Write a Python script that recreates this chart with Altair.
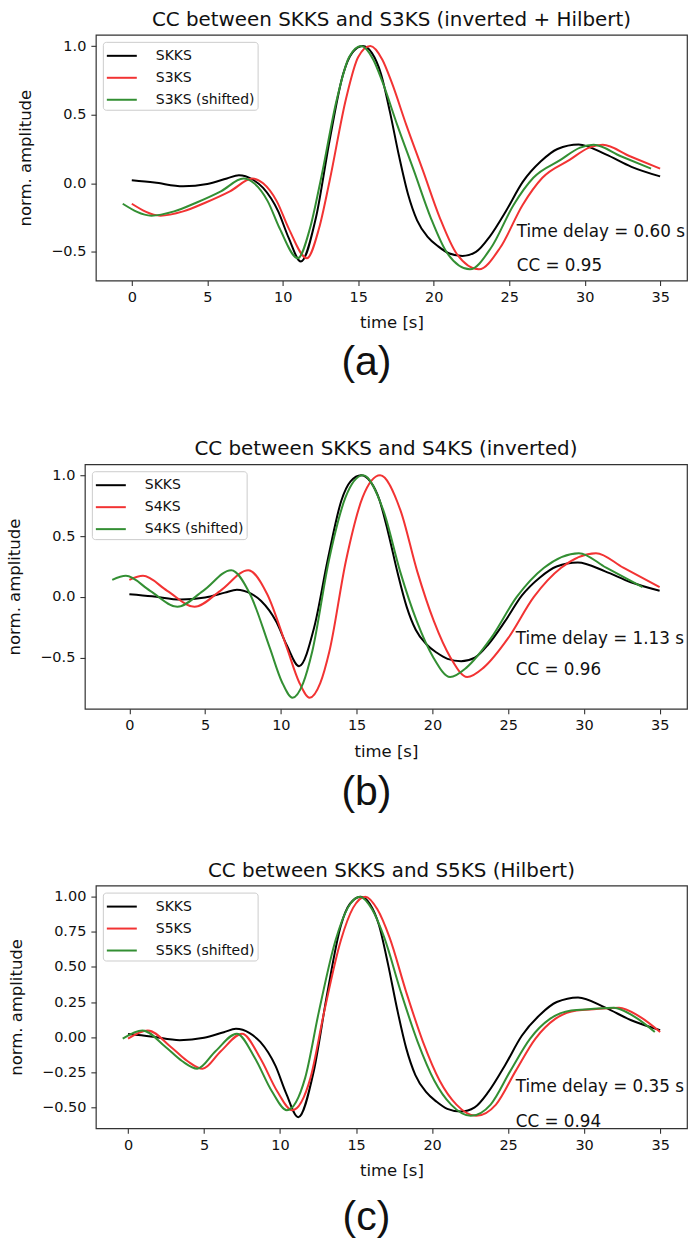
import altair as alt
import pandas as pd

# Reference phase SKKS: time [s] and normalised amplitude
skks_t = [0.0, 1.5, 3.4, 5.0, 6.3, 7.1, 8.0, 8.7, 9.7, 10.4, 11.2, 12.2, 13.1, 14.0,
          14.6, 15.3, 15.9, 16.5, 17.1, 17.7, 18.3, 18.9, 19.6, 20.3, 21.0, 21.9,
          22.8, 23.7, 24.8, 25.9, 27.1, 28.2, 29.6, 31.4, 33.1, 35.0]
skks_amp = [0.022, 0.005, -0.022, -0.005, 0.035, 0.059, 0.028, -0.034, -0.205, -0.40,
            -0.57, -0.25, 0.31, 0.795, 0.95, 1.0, 0.95, 0.80, 0.52, 0.20, -0.08,
            -0.27, -0.39, -0.46, -0.51, -0.53, -0.50, -0.39, -0.20, 0.01, 0.16,
            0.25, 0.283, 0.21, 0.12, 0.05]

# S3KS (inverted + Hilbert transformed)
s3ks_t = [0.0, 1.9, 3.4, 4.9, 6.5, 8.0, 8.7, 9.6, 10.4, 11.6, 12.4, 13.1, 14.2, 15.0,
          15.8, 16.6, 17.2, 18.2, 19.3, 20.4, 21.5, 23.0, 24.4, 25.9, 27.2, 29.0,
          30.3, 31.2, 33.0, 35.0]
s3ks_amp = [-0.149, -0.236, -0.205, -0.14, -0.059, 0.034, 0.0, -0.13, -0.33, -0.546,
            -0.33, 0.015, 0.62, 0.92, 1.0, 0.90, 0.74, 0.42, 0.088, -0.25, -0.51,
            -0.627, -0.47, -0.156, 0.04, 0.17, 0.26, 0.28, 0.197, 0.107]

# S4KS (inverted)
s4ks_t = [0.0, 0.9, 2.5, 4.3, 6.0, 7.85, 9.1, 10.4, 11.2, 11.9, 12.6, 13.2, 14.3,
          15.4, 16.55, 17.9, 19.0, 20.1, 21.2, 22.3, 23.4, 25.0, 26.7, 28.5, 30.8,
          32.6, 35.0]
s4ks_amp = [0.14, 0.173, 0.05, -0.082, 0.05, 0.22, 0.022, -0.42, -0.70, -0.83, -0.71,
            -0.45, 0.30, 0.82, 1.0, 0.71, 0.21, -0.20, -0.50, -0.66, -0.58, -0.34,
            0.0, 0.24, 0.36, 0.24, 0.08]

# S5KS (Hilbert transformed)
s5ks_t = [0.0, 1.3, 2.8, 3.9, 4.9, 6.1, 7.5, 8.7, 9.8, 10.8, 12.0, 12.9, 14.0, 14.8,
          15.6, 16.4, 17.2, 18.3, 19.4, 20.5, 21.6, 22.9, 24.2, 25.5, 26.8, 28.1,
          29.5, 30.8, 32.3, 33.6, 35.0]
s5ks_amp = [-0.01, 0.048, -0.068, -0.17, -0.225, -0.10, 0.025, -0.15, -0.383, -0.52,
            -0.29, 0.18, 0.69, 0.92, 1.0, 0.91, 0.71, 0.32, -0.033, -0.31, -0.48,
            -0.56, -0.48, -0.24, -0.01, 0.13, 0.19, 0.20, 0.21, 0.15, 0.037]

# Cross-correlation results
phases = ["S3KS", "S4KS", "S5KS"]
delays = [0.60, 1.13, 0.35]
ccs = [0.95, 0.96, 0.94]
titles = ["CC between SKKS and S3KS (inverted + Hilbert)",
          "CC between SKKS and S4KS (inverted)",
          "CC between SKKS and S5KS (Hilbert)"]
tags = ["(a)", "(b)", "(c)"]
x_ticks = [0, 5, 10, 15, 20, 25, 30, 35]

FONT = "DejaVu Sans"
COLORS = ["#000000", "#f23333", "#338f33"]


def padded(lo, hi, frac=0.05):
    span = hi - lo
    return [lo - frac * span, hi + frac * span]


def panel(phase, t, amp, delay, cc, title, tag, width, height, yticks, yfmt,
          left, bottom, tag_gap):
    names = ["SKKS", phase, f"{phase} (shifted)"]
    frames = [
        pd.DataFrame({"t": skks_t, "amp": skks_amp, "series": names[0]}),
        pd.DataFrame({"t": t, "amp": amp, "series": names[1]}),
        pd.DataFrame({"t": [v - delay for v in t], "amp": amp, "series": names[2]}),
    ]
    df = pd.concat(frames, ignore_index=True)
    xdom = padded(df["t"].min(), df["t"].max())
    ydom = padded(df["amp"].min(), df["amp"].max())

    x = alt.X("t:Q", scale=alt.Scale(domain=xdom, nice=False, zero=False),
              axis=alt.Axis(values=x_ticks, title="time [s]"))
    y = alt.Y("amp:Q", scale=alt.Scale(domain=ydom, nice=False, zero=False),
              axis=alt.Axis(values=yticks, format=yfmt, title="norm. amplitude",
                            labelExpr="replace(datum.label, '-', '\u2212')"))

    lines = alt.Chart(df).mark_line(strokeWidth=2, interpolate="monotone").encode(
        x=x, y=y,
        color=alt.Color("series:N",
                        scale=alt.Scale(domain=names, range=COLORS),
                        legend=alt.Legend(title=None, orient="none", legendX=7,
                                          legendY=7, symbolType="M-1.5,0H1.5",
                                          symbolSize=400, symbolStrokeWidth=2,
                                          symbolOffset=5,
                                          labelFont=FONT, labelFontSize=14,
                                          labelColor="#111", labelOffset=23,
                                          padding=3, rowPadding=4,
                                          strokeColor="#cccccc",
                                          fillColor="rgba(255,255,255,0.8)",
                                          cornerRadius=3)),
    )

    notes = pd.DataFrame({
        "t": [25.5, 25.5],
        "amp": [-0.39, -0.64],
        "label": [f"Time delay = {delay:.2f} s", f"CC = {cc:.2f}"],
    })
    text = alt.Chart(notes).mark_text(align="left", baseline="alphabetic",
                                      font=FONT, fontSize=16.8,
                                      color="#111").encode(
        x="t:Q", y="amp:Q", text="label:N")

    head = alt.Chart(pd.DataFrame({"title": [title]})).mark_text(
        align="center", baseline="alphabetic", font=FONT, fontSize=19.9,
        color="#111").encode(
        text="title:N", x=alt.value(width / 2), y=alt.value(-9))

    tag_layer = alt.Chart(pd.DataFrame({"tag": [tag]})).mark_text(
        align="center", baseline="middle", font="Liberation Sans", fontSize=41,
        color="#111").encode(
        text="tag:N", x=alt.value(366 - left), y=alt.value(height + tag_gap))

    # transparent frame that fixes the outer extent of the panel
    extent = alt.Chart(pd.DataFrame({"k": [0]})).mark_rule(
        strokeOpacity=0, strokeWidth=0).encode(
        x=alt.value(1 - left), y=alt.value(-33), y2=alt.value(height + bottom))

    body = alt.layer(lines, text, head, tag_layer, extent).properties(
        width=width, height=height)

    # 1px blank cell in front, so each row starts at its own left edge
    spacer = alt.Chart(pd.DataFrame({"k": [0]})).mark_rule(
        strokeOpacity=0, strokeWidth=0).encode(
        x=alt.value(0), y=alt.value(0), y2=alt.value(1)).properties(
        width=1, height=1, view=alt.ViewBackground(strokeOpacity=0))
    return alt.hconcat(spacer, body, spacing=0).resolve_scale(
        color="independent").resolve_legend(color="independent")


ticks_a = [-0.5, 0.0, 0.5, 1.0]
ticks_c = [-0.5, -0.25, 0.0, 0.25, 0.5, 0.75, 1.0]

pa = panel(phases[0], s3ks_t, s3ks_amp, delays[0], ccs[0], titles[0], tags[0],
           592, 246, ticks_a, ".1f", 95, 149, 83)
pb = panel(phases[1], s4ks_t, s4ks_amp, delays[1], ccs[1], titles[1], tags[1],
           603, 245, ticks_a, ".1f", 84, 142, 84)
pc = panel(phases[2], s5ks_t, s5ks_amp, delays[2], ccs[2], titles[2], tags[2],
           592, 243, ticks_c, ".2f", 95, 116, 90)

chart = alt.concat(pa, pb, pc, columns=1, align="none", spacing=0).resolve_scale(
    color="independent", x="independent", y="independent"
).resolve_legend(color="independent").properties(
    padding=0, background="white"
).configure_view(
    stroke="#333333", strokeWidth=1.2
).configure_axis(
    domain=False, grid=False, tickSize=5, tickColor="#333333", tickWidth=1.1,
    labelFont=FONT, labelFontSize=14.5, labelColor="#111", labelPadding=5,
    titleFont=FONT, titleFontSize=16.5, titleFontWeight="normal", titleColor="#111",
).configure_axisX(titlePadding=11).configure_axisY(titlePadding=17)

chart.save("out.html", embed_options={"renderer": "svg", "actions": False})
